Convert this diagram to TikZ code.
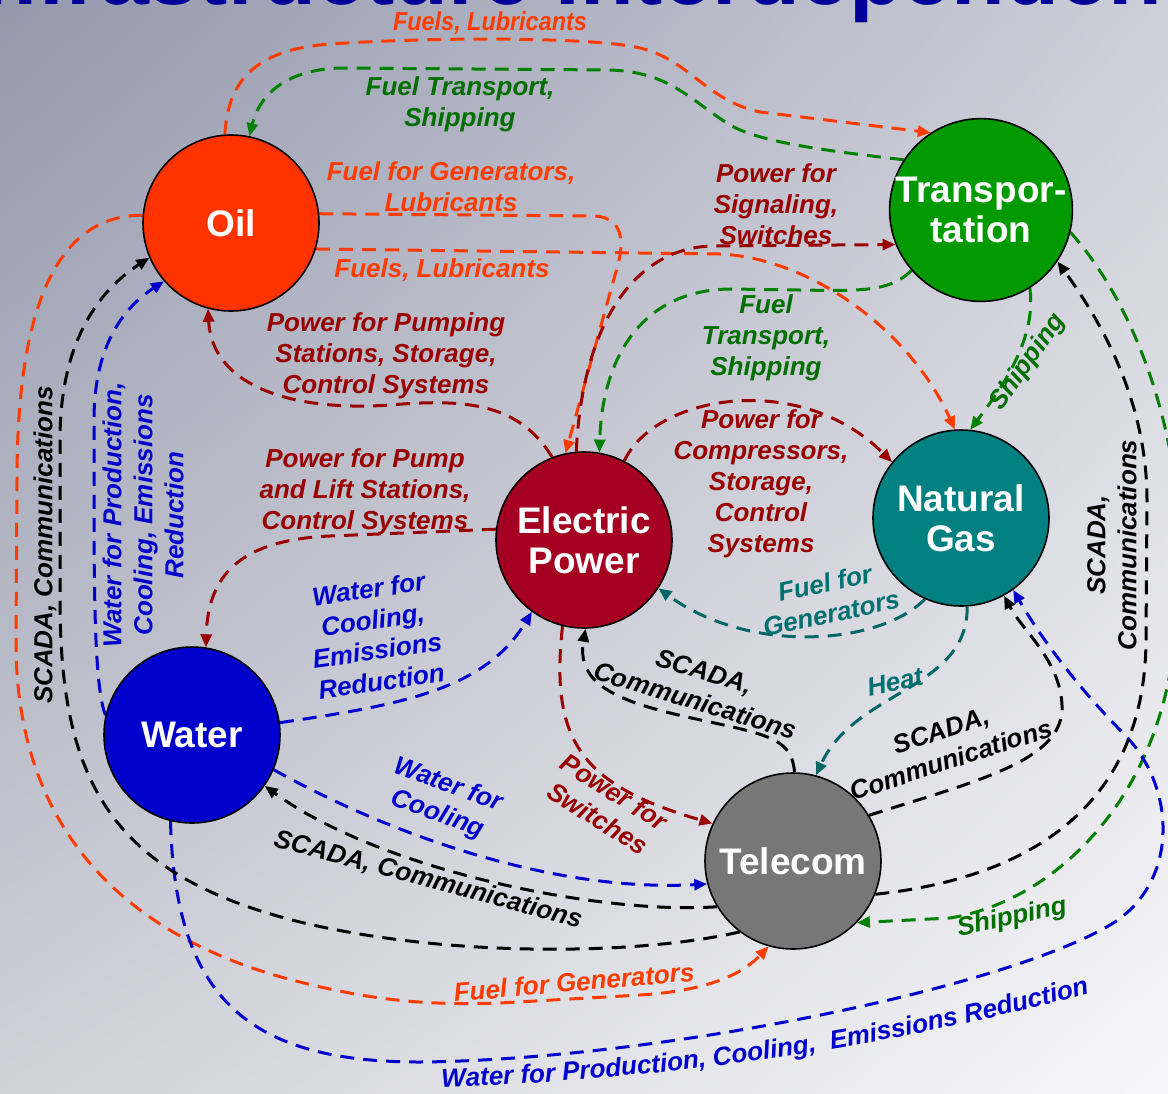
\documentclass[tikz,border=0pt]{standalone}
\usepackage{fontspec}
\setmainfont{Liberation Sans}
\usetikzlibrary{arrows.meta, shapes.geometric, shadings, decorations.text}
\definecolor{oilFill}{RGB}{255,51,0}
\definecolor{transFill}{RGB}{0,153,0}
\definecolor{powerFill}{RGB}{165,0,33}
\definecolor{gasFill}{RGB}{0,128,128}
\definecolor{waterFill}{RGB}{0,0,204}
\definecolor{telecomFill}{RGB}{119,119,119}
\definecolor{oilLine}{RGB}{255,60,0}
\definecolor{powerLine}{RGB}{153,0,0}
\definecolor{greenLine}{RGB}{0,128,0}
\definecolor{greenText}{RGB}{0,110,0}
\definecolor{tealLine}{RGB}{0,102,102}
\definecolor{tealText}{RGB}{0,112,112}
\definecolor{blueLine}{RGB}{0,0,204}
\definecolor{titleBlue}{RGB}{0,0,153}
\definecolor{bgTL}{RGB}{148,152,172}
\definecolor{bgTR}{RGB}{205,206,216}
\definecolor{bgBL}{RGB}{208,209,217}
\definecolor{bgBR}{RGB}{247,247,249}
\pgfdeclarelayer{behind}
\pgfsetlayers{behind,main}

\begin{document}
\begin{tikzpicture}[
        x=1pt, y=-1pt,
        sector/.style={circle, draw=black, line width=1.6pt, minimum size=176pt, inner sep=0pt, text=white, align=center, font=\fontsize{37}{40}\selectfont\bfseries},
        link/.style={line width=3pt, dash pattern=on 14pt off 9pt, -{Triangle[length=13pt,width=11pt]}},
        lbl/.style={font=\fontsize{26}{31}\selectfont\bfseries\itshape, align=center, inner sep=0pt}
    ]
        \useasboundingbox (0,0) rectangle (1168,1093);
        \clip (0,0) rectangle (1168,1093);

        % Sectors
        \node[sector, fill=oilFill] (oil) at (231,223) {Oil};
        \node[sector, fill=transFill] (trans) at (981,210) {Transpor-\\tation};
        \node[sector, fill=powerFill] (power) at (584,540) {Electric\\Power};
        \node[sector, fill=gasFill] (gas) at (961,518) {Natural\\Gas};
        \node[sector, fill=waterFill] (water) at (192,735) {Water};
        \node[sector, fill=telecomFill] (telecom) at (793,861) {Telecom};

        \begin{pgfonlayer}{behind}
        \shade[upper left=bgTL, upper right=bgTR, lower left=bgBL, lower right=bgBR] (0,0) rectangle (1168,1093);
        \node[anchor=base west, inner sep=0pt, text=titleBlue, font=\fontsize{88}{88}\selectfont\bfseries] (title) at (-41,4) {Infrastructure Interdependencies};

        % Oil
        \draw[link, oilLine] (oil.94) .. controls (228,85) and (250,50) .. (330,44) .. controls (450,36) and (600,38) .. (640,48) .. controls (690,60) and (705,100) .. (760,112) -- (trans.123);
        \draw[link, oilLine] (oil.6) -- (595,216) .. controls (625,218) and (625,245) .. (615,275) -- (power.102);
        \draw[link, oilLine] (oil.-17) -- (720,254) .. controls (810,258) and (910,330) .. (gas.94);
        \draw[link, oilLine] (oil.175) .. controls (60,215) and (17,300) .. (17,480) -- (16,640) .. controls (15,850) and (150,945) .. (300,982) .. controls (380,1002) and (430,1005) .. (500,1003) -- (640,995) .. controls (720,990) and (748,968) .. (telecom.-106);

        % Transportation
        \draw[link, greenLine] (trans.147) .. controls (820,150) and (760,142) .. (730,125) .. controls (690,100) and (670,72) .. (610,70) -- (340,68) .. controls (280,70) and (258,100) .. (oil.78);
        \draw[link, greenLine] (trans.-139) .. controls (890,292) and (860,291) .. (800,290) -- (730,289) .. controls (640,290) and (602,360) .. (power.80);
        \draw[link, greenLine] (trans.-58) .. controls (1037,340) and (1000,390) .. (gas.84);
        \draw[link, greenLine] (trans.-14) .. controls (1140,310) and (1195,460) .. (1176,620) .. controls (1168,790) and (1060,900) .. (950,918) -- (telecom.-44);

        % Electric Power
        \draw[link, powerLine] (power.95) .. controls (582,330) and (630,250) .. (710,246) -- (trans.-158);
        \draw[link, powerLine] (power.111) .. controls (520,405) and (470,398) .. (390,405) .. controls (290,412) and (212,385) .. (oil.-105);
        \draw[link, powerLine] (power.173) -- (330,536) .. controls (240,540) and (208,575) .. (water.81);
        \draw[link, powerLine] (power.63) .. controls (655,395) and (800,370) .. (gas.141);
        \draw[link, powerLine] (power.-104) .. controls (550,740) and (580,785) .. (telecom.155);

        % Natural Gas
        \draw[link, tealLine] (gas.-114) .. controls (880,645) and (750,655) .. (power.-33);
        \draw[link, tealLine] (gas.-86) .. controls (968,690) and (855,690) .. (telecom.75);

        % Water
        \draw[link, blueLine] (water.8) .. controls (400,705) and (485,690) .. (power.-126);
        \draw[link, blueLine] (water.-23) .. controls (400,840) and (560,892) .. (telecom.-165);
        \draw[link, blueLine] (water.167) .. controls (95,690) and (94,600) .. (94,500) -- (94,420) .. controls (94,350) and (120,310) .. (oil.-139);
        \draw[link, blueLine] (water.-104) .. controls (175,1000) and (250,1062) .. (420,1062) .. controls (650,1060) and (1000,990) .. (1110,925) .. controls (1178,885) and (1178,790) .. (1125,735) .. controls (1085,695) and (1045,645) .. (gas.-54);

        % Telecom
        \draw[link, black] (telecom.89) .. controls (792,740) and (770,735) .. (710,722) .. controls (630,705) and (575,690) .. (power.-89);
        \draw[link, black] (telecom.31) .. controls (980,780) and (1065,760) .. (1062,705) .. controls (1060,660) and (1022,630) .. (gas.-61);
        \draw[link, black] (telecom.-22) .. controls (1010,880) and (1145,820) .. (1146,640) -- (1147,500) .. controls (1147,400) and (1100,320) .. (trans.-34);
        \draw[link, black] (telecom.-149) .. controls (600,915) and (380,870) .. (water.-35);
        \draw[link, black] (telecom.-127) .. controls (640,955) and (450,958) .. (300,922) .. controls (110,875) and (60,780) .. (60,600) -- (60,440) .. controls (60,340) and (100,290) .. (oil.-157);
        \end{pgfonlayer}

        % Labels
        \node[lbl, text=oilLine, xscale=0.9] (lFuelsTop) at (490,23) {Fuels, Lubricants};
        \node[lbl, text=greenText] (lFuelTrans) at (460,104) {Fuel Transport,\\Shipping};
        \node[lbl, text=oilLine] (lGenLub) at (451,187) {Fuel for Generators,\\Lubricants};
        \node[lbl, text=oilLine] (lFuelsGas) at (442,270) {Fuels, Lubricants};
        \node[lbl, text=powerLine] (lSignal) at (776,204) {Power for\\Signaling,\\Switches};
        \node[lbl, text=greenText] (lFuelTrans2) at (766,338) {Fuel\\Transport,\\Shipping};
        \node[lbl, text=powerLine] (lPumping) at (386,356) {Power for Pumping\\Stations, Storage,\\Control Systems};
        \node[lbl, text=powerLine] (lPump) at (365,492) {Power for Pump\\and Lift Stations,\\Control Systems};
        \node[lbl, text=powerLine] (lCompr) at (761,484) {Power for\\Compressors,\\Storage,\\Control\\Systems};
        \node[lbl, text=tealText, rotate=12] (lGenGas) at (828,598) {Fuel for\\Generators};
        \node[lbl, text=tealText, rotate=12] (lHeat) at (895,682) {Heat};
        \node[lbl, rotate=-17] (lScadaPow) at (700,686) {SCADA,\\Communications};
        \node[lbl, rotate=18] (lScadaGas) at (946,745) {SCADA,\\Communications};
        \node[lbl, rotate=90] (lScadaTr) at (1112,545) {SCADA,\\Communications};
        \node[lbl, rotate=-15] (lScadaWat) at (428,880) {SCADA, Communications};
        \node[lbl, rotate=90] (lScadaOil) at (45,545) {SCADA, Communications};
        \node[lbl, text=powerLine, rotate=-32] (lSwitch) at (606,805) {Power for\\Switches};
        \node[lbl, text=blueLine, rotate=8] (lCoolPow) at (375,635) {Water for\\Cooling,\\Emissions\\Reduction};
        \node[lbl, text=blueLine, rotate=-20] (lCoolTel) at (443,800) {Water for\\Cooling};
        \node[lbl, text=blueLine, rotate=90] (lProdOil) at (143,515) {Water for Production,\\Cooling, Emissions\\Reduction};
        \path[decorate, decoration={text along path, text align=center,
            text={|\fontsize{26}{31}\selectfont\bfseries\itshape\color{blueLine}|Water for Production, Cooling, {\ }Emissions Reduction}}]
            (418,1088) .. controls (700,1080) and (920,1040) .. (1112,987);
        \node[lbl, text=oilLine, rotate=5] (lGenTel) at (574,982) {Fuel for Generators};
        \node[lbl, text=greenText, rotate=55] (lShipGas) at (1028,362) {Shipping};
        \node[lbl, text=greenText, rotate=12] (lShipTel) at (1012,918) {Shipping};
    \end{tikzpicture}
\end{document}
